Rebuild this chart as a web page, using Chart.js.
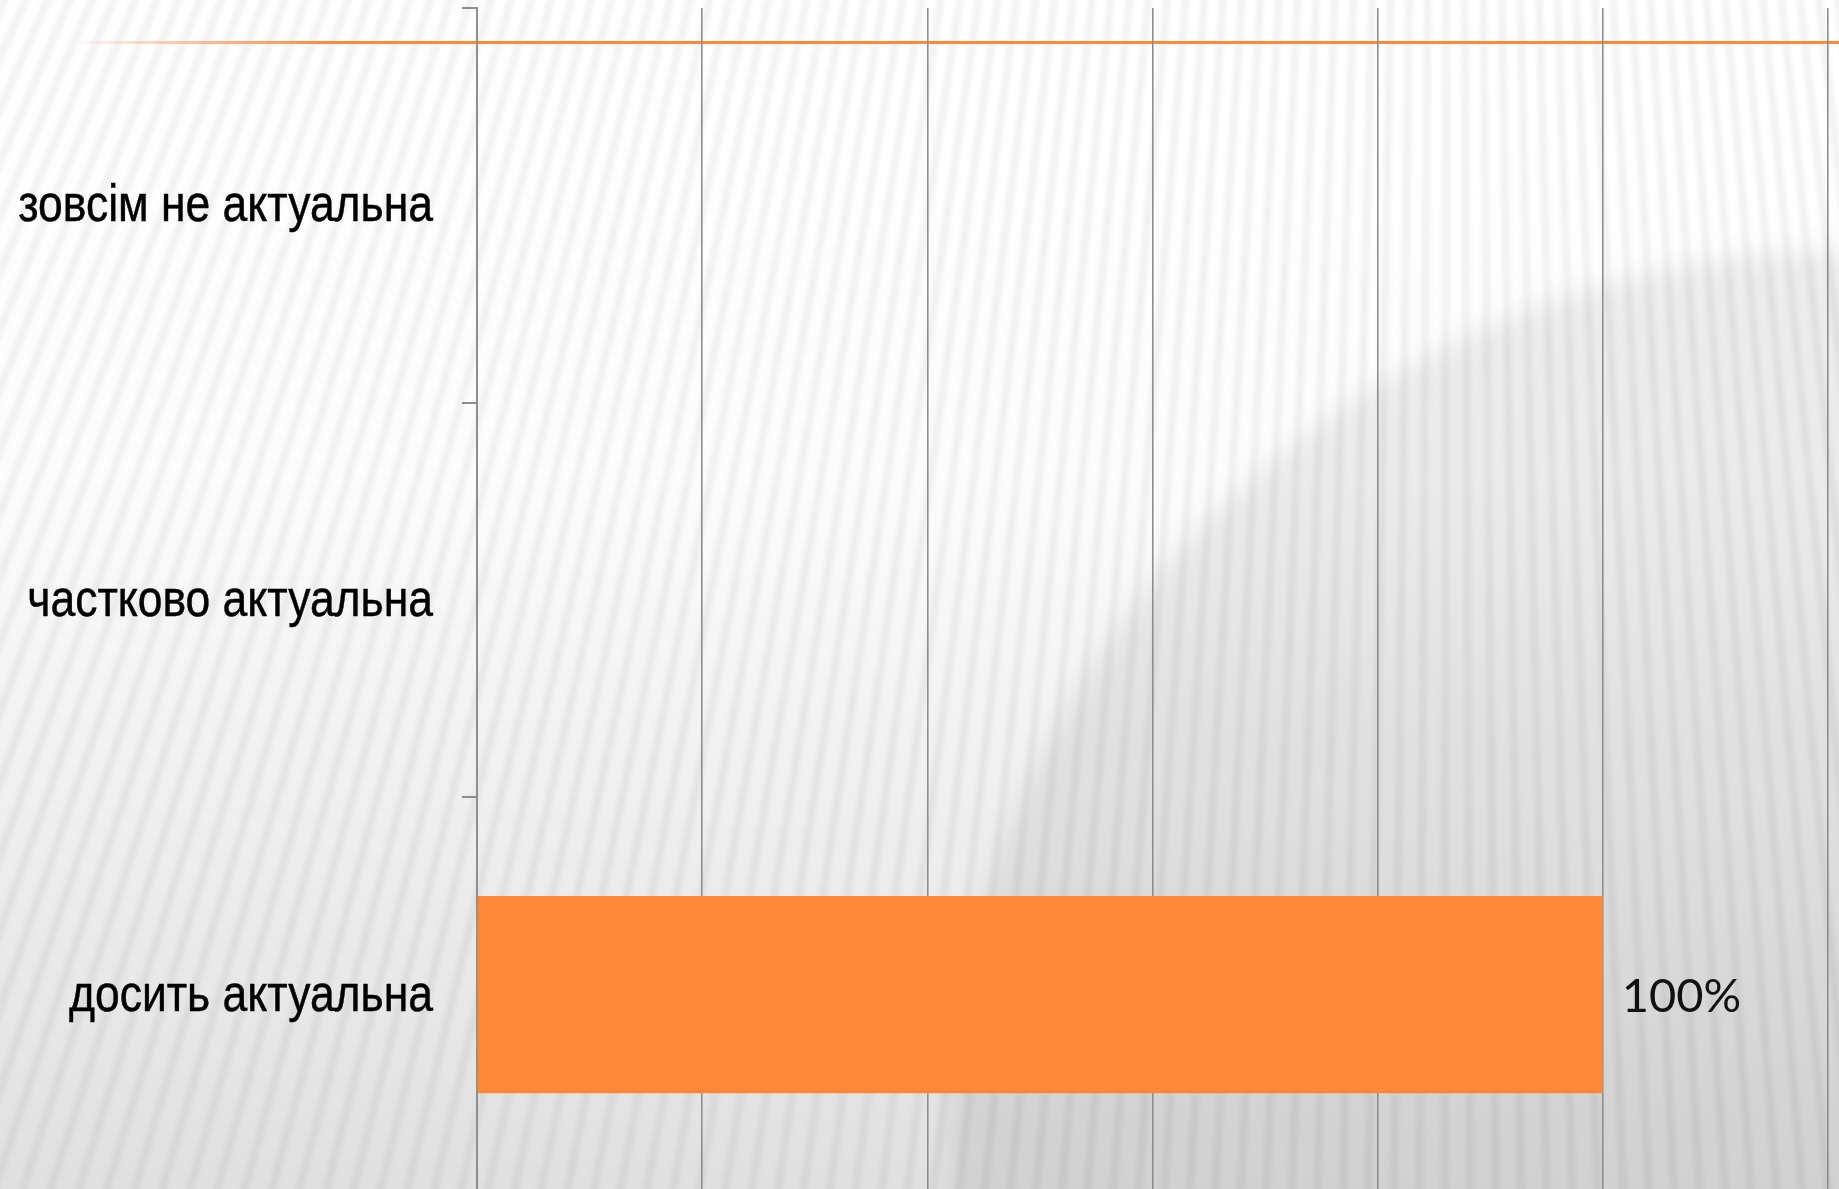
<!DOCTYPE html>
<html>
<head>
<meta charset="utf-8">
<script src="https://cdn.jsdelivr.net/npm/chart.js@4/dist/chart.umd.min.js"></script>
<style>
  html, body { margin: 0; padding: 0; width: 1839px; height: 1189px; overflow: hidden; background: #fff; }
  #bg { position: absolute; left: 0; top: 0; width: 1839px; height: 1189px; }
  #wrap { position: absolute; left: 0; top: 0; width: 1839px; height: 1192px; }
  #deco {
    position: absolute; left: 70px; top: 41px; width: 1769px; height: 3px;
    background: linear-gradient(to right, rgba(255,138,61,0) 0px, rgba(255,138,61,0.5) 120px, #ff8a3d 260px, #ff8a3d 100%);
  }
</style>
</head>
<body>
<canvas id="bg" width="1839" height="1189"></canvas>
<div id="deco"></div>
<div id="wrap"><canvas id="c" width="1839" height="1192"></canvas></div>
<script>
const categories = ["зовсім не актуальна", "частково актуальна", "досить актуальна"];
const values = [null, null, 100];
const valueLabels = ["", "", "100%"];
const xTicks = [0, 20, 40, 60, 80, 100, 120];

// decorative slide background (not data)
(function drawBackground() {
  const cv = document.getElementById('bg');
  const g = cv.getContext('2d');
  const W = cv.width, H = cv.height;
  const base = g.createLinearGradient(0, 0, 0, H);
  base.addColorStop(0, '#ffffff');
  base.addColorStop(0.4, '#fcfcfc');
  base.addColorStop(0.7, '#eeeeee');
  base.addColorStop(1, '#e0e0e0');
  g.fillStyle = base;
  g.fillRect(0, 0, W, H);
  g.save();
  g.filter = 'blur(12px)';
  g.fillStyle = 'rgba(0,0,0,0.065)';
  g.beginPath();
  g.arc(1850, 1150, 900, 0, Math.PI * 2);
  g.fill();
  g.restore();
  g.save();
  g.filter = 'blur(2.5px)';
  g.strokeStyle = 'rgba(0,0,0,0.055)';
  g.lineWidth = 7;
  const ax = 1450, ay = -3200;
  for (let a = -0.5; a < 0.16; a += 0.0058) {
    g.beginPath();
    g.moveTo(ax, ay);
    g.lineTo(ax + Math.sin(a) * 5000, ay + Math.cos(a) * 5000);
    g.stroke();
  }
  g.restore();
})();

const labelPlugin = {
  id: 'labels',
  afterDraw(chart) {
    const ctx = chart.ctx;
    const yScale = chart.scales.y;
    ctx.save();
    ctx.fillStyle = '#000';
    ctx.strokeStyle = '#000';
    ctx.lineWidth = 0.5;
    ctx.textAlign = 'right';
    ctx.textBaseline = 'alphabetic';
    ctx.font = "52px 'Liberation Sans', Arial, sans-serif";
    categories.forEach((lab, i) => {
      const y = yScale.getPixelForValue(i);
      ctx.save();
      ctx.translate(433, y + 16);
      ctx.scale(0.855, 1);
      ctx.fillText(lab, 0, 0);
      ctx.strokeText(lab, 0, 0);
      ctx.restore();
    });
    ctx.restore();
    const meta = chart.getDatasetMeta(0);
    ctx.save();
    ctx.font = "47px Lato, 'Open Sans', sans-serif";
    ctx.fillStyle = '#111';
    ctx.textAlign = 'left';
    ctx.textBaseline = 'middle';
    meta.data.forEach((bar, i) => {
      if (values[i] === null || values[i] === undefined) return;
      ctx.fillText(valueLabels[i], bar.x + 19, bar.y + 2);
    });
    ctx.restore();
  }
};

new Chart(document.getElementById('c'), {
  type: 'bar',
  data: {
    labels: categories,
    datasets: [{
      data: values,
      backgroundColor: '#ff8939',
      borderWidth: 0,
      barPercentage: 0.5,
      categoryPercentage: 1.0
    }]
  },
  options: {
    indexAxis: 'y',
    responsive: false,
    animation: false,
    events: [],
    layout: { padding: { top: 8, right: 11, bottom: 0, left: 0 } },
    plugins: { legend: { display: false }, tooltip: { enabled: false } },
    scales: {
      x: {
        min: xTicks[0],
        max: xTicks[xTicks.length - 1],
        afterBuildTicks: s => { s.ticks = xTicks.map(v => ({ value: v })); },
        ticks: { display: false },
        grid: { color: '#8e8e8e', lineWidth: 1.6, drawTicks: false },
        border: { display: false }
      },
      y: {
        grid: { drawOnChartArea: false, drawTicks: true, tickLength: 15, color: '#8e8e8e', lineWidth: 2, offset: true },
        border: { display: true, color: '#8e8e8e', width: 2 },
        ticks: { display: false },
        afterFit: s => { s.width = 477; }
      }
    }
  },
  plugins: [labelPlugin]
});
</script>
</body>
</html>
